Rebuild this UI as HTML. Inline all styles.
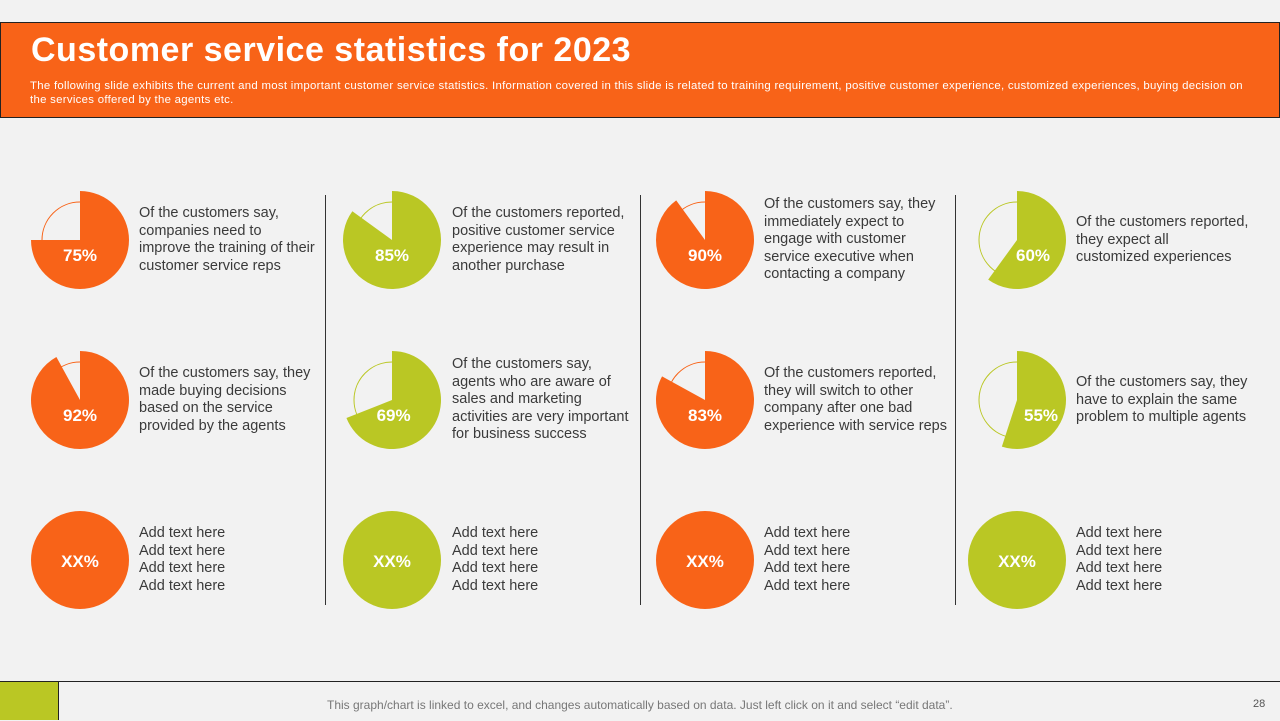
<!DOCTYPE html>
<html><head><meta charset="utf-8"><style>
body{margin:0;width:1280px;height:720px;background:#f2f2f2;position:relative;overflow:hidden;font-family:"Liberation Sans",sans-serif}
#hdr{position:absolute;left:0;top:22px;width:1278px;height:94px;background:#f86318;border:1px solid #222}
#title{position:absolute;left:30px;top:8px;color:#fff;font-weight:bold;font-size:34px;letter-spacing:0.5px}
#sub{position:absolute;left:29px;top:56px;color:#fff;font-size:11.4px;line-height:14px;width:1240px;letter-spacing:0.29px;white-space:nowrap}
.txt{position:absolute;font-size:14.5px;line-height:17.6px;color:#3a3a3a;white-space:nowrap}
.div{position:absolute;width:1px;background:#333;top:195px;height:410px}
#foot{position:absolute;left:0;top:681px;width:1280px;border-top:1px solid #222;height:39px}
#fg{position:absolute;left:0;top:682px;width:58px;height:38px;background:#bac724;border-right:1px solid #222}
#ftxt{position:absolute;left:327px;top:698px;font-size:12px;color:#777;letter-spacing:0px}
#pg{position:absolute;left:1253px;top:698px;font-size:11px;color:#555}
</style></head><body>
<div id="hdr">
<div id="title">Customer service statistics for 2023</div>
<div id="sub">The following slide exhibits the current and most important customer service statistics. Information covered in this slide is related to training requirement, positive customer experience, customized experiences, buying decision on<br>the services offered by the agents etc.</div>
</div>
<div class="div" style="left:325px"></div>
<div class="div" style="left:640px"></div>
<div class="div" style="left:955px"></div>
<svg id="pies" width="1280" height="720" style="position:absolute;left:0;top:0"></svg>
<div class="txt" style="left:139px;top:205px">Of the customers say,<br>companies need to<br>improve the training of their<br>customer service reps</div>
<div class="txt" style="left:452px;top:205px">Of the customers reported,<br>positive customer service<br>experience may result in<br>another purchase</div>
<div class="txt" style="left:764px;top:196px">Of the customers say, they<br>immediately expect to<br>engage with customer<br>service executive when<br>contacting a company</div>
<div class="txt" style="left:1076px;top:214px">Of the customers reported,<br>they expect all<br>customized experiences</div>
<div class="txt" style="left:139px;top:365px">Of the customers say, they<br>made buying decisions<br>based on the service<br>provided by the agents</div>
<div class="txt" style="left:452px;top:356px">Of the customers say,<br>agents who are aware of<br>sales and marketing<br>activities are very important<br>for business success</div>
<div class="txt" style="left:764px;top:365px">Of the customers reported,<br>they will switch to other<br>company after one bad<br>experience with service reps</div>
<div class="txt" style="left:1076px;top:374px">Of the customers say, they<br>have to explain the same<br>problem to multiple agents</div>
<div class="txt" style="left:139px;top:525px">Add text here<br>Add text here<br>Add text here<br>Add text here</div>
<div class="txt" style="left:452px;top:525px">Add text here<br>Add text here<br>Add text here<br>Add text here</div>
<div class="txt" style="left:764px;top:525px">Add text here<br>Add text here<br>Add text here<br>Add text here</div>
<div class="txt" style="left:1076px;top:525px">Add text here<br>Add text here<br>Add text here<br>Add text here</div>
<div id="foot"></div>
<div id="fg"></div>
<div id="ftxt">This graph/chart is linked to excel, and changes automatically based on data. Just left click on it and select “edit data”.</div>
<div id="pg">28</div>
<script>
const values = [75, 85, 90, 60, 92, 69, 83, 55];
const labels = ["75%","85%","90%","60%","92%","69%","83%","55%"];
const colorKeys = ["o","g","o","g","o","g","o","g"];
const placeholderLabels = ["XX%","XX%","XX%","XX%"];
const colX = [80, 392, 705, 1017];
const rowY = [240, 400, 560];
const COL = {o:"#f86318", g:"#bac724"};
const R = 49, RI = 38;
const svg = document.getElementById('pies');
const NS = "http://www.w3.org/2000/svg";
function pt(cx, cy, r, v){ const a = v/100*2*Math.PI; return [cx + r*Math.sin(a), cy - r*Math.cos(a)]; }
function mk(tag, attrs){ const e = document.createElementNS(NS, tag); for (const k in attrs) e.setAttribute(k, attrs[k]); svg.appendChild(e); return e; }
values.forEach((v, i) => {
  const cx = colX[i % 4], cy = rowY[Math.floor(i / 4)], c = COL[colorKeys[i]];
  const ring = mk('circle', {cx: cx, cy: cy, r: RI, fill: 'none', stroke: c, 'stroke-width': 1});
  
  
  const [x1, y1] = pt(cx, cy, R, v);
  const large = v > 50 ? 1 : 0;
  const p = mk('path', {d: `M${cx},${cy} L${cx},${cy - R} A${R},${R} 0 ${large} 1 ${x1},${y1} Z`, fill: c});
  
  
  const lx = cx + (v < 70 ? (70 - v) * 1.6 : 0);
  const t = mk('text', {x: lx, y: cy + 21, 'text-anchor': 'middle', fill: '#fff', 'font-size': 17, 'font-weight': 'bold', 'font-family': 'Liberation Sans, sans-serif'});
  t.textContent = labels[i];
  
  
});
placeholderLabels.forEach((l, i) => {
  const cx = colX[i], cy = rowY[2], c = COL[i % 2 ? 'g' : 'o'];
  const ci = mk('circle', {cx: cx, cy: cy, r: R, fill: c});
  
  
  const t = mk('text', {x: cx, y: cy + 7, 'text-anchor': 'middle', fill: '#fff', 'font-size': 17, 'font-weight': 'bold', 'font-family': 'Liberation Sans, sans-serif'});
  t.textContent = l;
  
  
});
</script>
</body></html>
